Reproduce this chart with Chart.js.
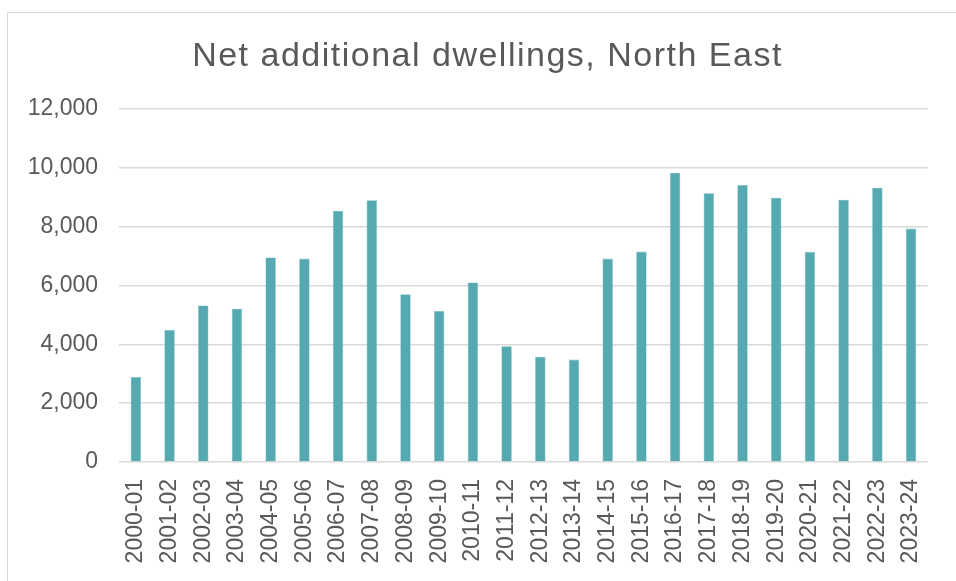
<!DOCTYPE html>
<html>
<head>
<meta charset="utf-8">
<script src="https://cdn.jsdelivr.net/npm/chart.js@4/dist/chart.umd.min.js"></script>
<style>
  html, body { margin: 0; padding: 0; background: #fff; }
  #wrap { position: relative; width: 956px; height: 581px; overflow: hidden; }
  #frame { position: absolute; left: 7px; top: 12px; width: 960px; height: 600px;
           border-left: 1.5px solid #d9d9d9; border-top: 1.5px solid #d9d9d9; }
  canvas { position: absolute; left: 0; top: 0; }
</style>
</head>
<body>
<div id="wrap">
  <div id="frame"></div>
  <canvas id="chart" width="956" height="581"></canvas>
</div>
<script>
// Data
const years = ['2000-01','2001-02','2002-03','2003-04','2004-05','2005-06','2006-07','2007-08',
  '2008-09','2009-10','2010-11','2011-12','2012-13','2013-14','2014-15','2015-16',
  '2016-17','2017-18','2018-19','2019-20','2020-21','2021-22','2022-23','2023-24'];
const dwellings = [2890, 4490, 5320, 5210, 6950, 6910, 8540, 8890,
  5700, 5130, 6100, 3930, 3580, 3480, 6910, 7150,
  9830, 9130, 9410, 8980, 7140, 8910, 9320, 7930];
const yTicks = [0, 2000, 4000, 6000, 8000, 10000, 12000];

const textGrey = '#595959';
const gridGrey = '#d9d9d9';
const font = 'Liberation Sans, Arial, sans-serif';

const chart = new Chart(document.getElementById('chart'), {
  type: 'bar',
  data: {
    labels: years,
    datasets: [{
      label: 'Net additional dwellings',
      data: dwellings,
      backgroundColor: '#55a9b0',
      borderColor: '#7cc0c5',
      borderWidth: { left: 0.6, right: 0.6, top: 0.6, bottom: 0 },
      categoryPercentage: 1,
      barPercentage: 0.31
    }]
  },
  options: {
    responsive: false,
    animation: false,
    devicePixelRatio: 1,
    layout: { padding: { left: 19, right: 0, top: 0, bottom: 0 } },
    plugins: {
      legend: { display: false },
      tooltip: { enabled: false },
      title: {
        display: true,
        text: 'Net additional dwellings, North East',
        color: textGrey,
        font: { family: font, size: 34, weight: 'normal' },
        padding: { top: 36, bottom: 32 }
      }
    },
    scales: {
      x: {
        grid: { display: false, drawTicks: false },
        border: { display: false },
        ticks: {
          color: textGrey,
          font: { family: font, size: 23 },
          minRotation: 90,
          maxRotation: 90,
          autoSkip: false,
          padding: 17
        },
        afterFit: (s) => { s.height = 119; }
      },
      y: {
        min: 0,
        max: 12000,
        afterBuildTicks: (s) => { s.ticks = yTicks.map(v => ({ value: v })); },
        grid: { color: gridGrey, lineWidth: 1.5, drawTicks: false },
        border: { display: false },
        ticks: {
          color: textGrey,
          font: { family: font, size: 23 },
          padding: 21,
          callback: (v) => v.toLocaleString('en-GB')
        },
        afterFit: (s) => { s.width = 100; }
      },
      // empty right-hand margin
      yRight: {
        position: 'right',
        min: 0,
        max: 12000,
        grid: { display: false, drawTicks: false },
        border: { display: false },
        ticks: { display: false },
        afterFit: (s) => { s.width = 17; }
      }
    }
  }
});

// the title is set slightly wider than the library default
const titleBox = chart.titleBlock;
const drawTitle = titleBox.draw.bind(titleBox);
titleBox.draw = function (area) {
  const ctx = chart.ctx;
  ctx.save();
  ctx.letterSpacing = '1.5px';
  drawTitle(area);
  ctx.restore();
};
chart.draw();
</script>
</body>
</html>
